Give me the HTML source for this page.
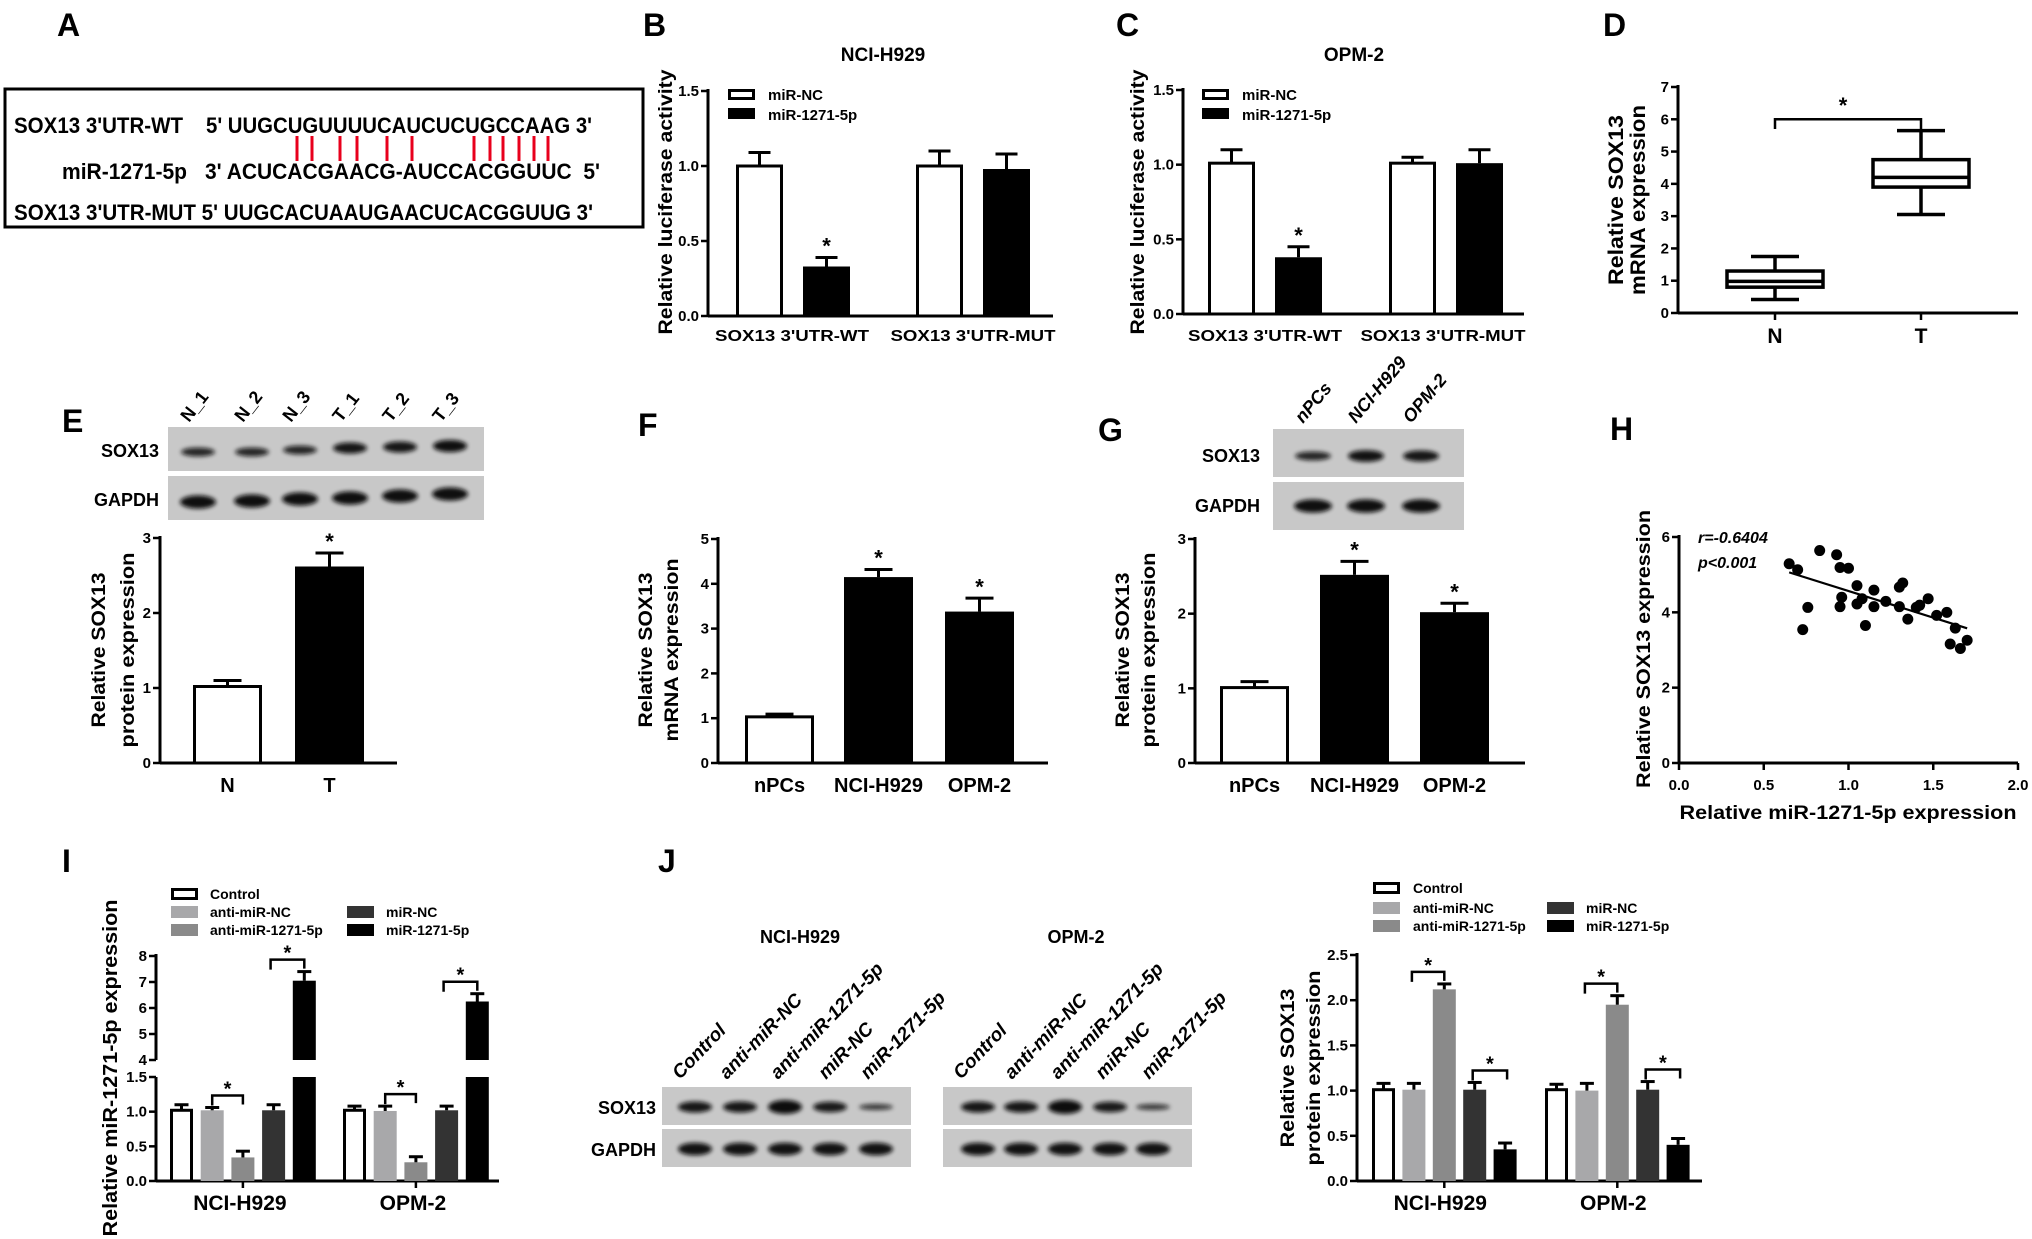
<!DOCTYPE html>
<html><head><meta charset="utf-8"><style>
html,body{margin:0;padding:0;background:#fff;}
svg{display:block;font-family:"Liberation Sans",Arial,sans-serif;font-weight:bold;}
.pre{white-space:pre;}
</style></head><body>
<svg id="fig" xmlns="http://www.w3.org/2000/svg" width="2032" height="1239" viewBox="0 0 2032 1239">
<defs><filter id="blur" x="-50%" y="-100%" width="200%" height="300%"><feGaussianBlur stdDeviation="2.2"/></filter></defs>
<rect x="0" y="0" width="2032" height="1239" fill="#fff"/>
<!-- Panel A -->
<g>
<text x="57" y="36" font-size="32">A</text>
<rect x="5" y="89" width="638" height="138" fill="none" stroke="#000" stroke-width="3"/>
<text x="14" y="133" font-size="22" textLength="169" lengthAdjust="spacingAndGlyphs">SOX13 3'UTR-WT</text>
<text x="206" y="133" font-size="22" textLength="386" lengthAdjust="spacingAndGlyphs">5' UUGCUGUUUUCAUCUCUGCCAAG 3'</text>
<text x="62" y="179" font-size="22" textLength="125" lengthAdjust="spacingAndGlyphs">miR-1271-5p</text>
<text x="205" y="179" font-size="22" class="pre" textLength="395" lengthAdjust="spacingAndGlyphs">3' ACUCACGAACG-AUCCACGGUUC  5'</text>
<text x="14" y="220" font-size="22" textLength="579" lengthAdjust="spacingAndGlyphs">SOX13 3'UTR-MUT 5' UUGCACUAAUGAACUCACGGUUG 3'</text>
<g id="pairs"></g>
</g>
<text x="643" y="36" font-size="32">B</text>
<text x="1116" y="36" font-size="32">C</text>
<text x="1603" y="36" font-size="32">D</text>
<text x="62" y="432" font-size="32">E</text>
<text x="638" y="436" font-size="32">F</text>
<text x="1098" y="441" font-size="32">G</text>
<text x="1610" y="440" font-size="32">H</text>
<text x="62" y="872" font-size="32">I</text>
<text x="658" y="872" font-size="32">J</text>
<g id="root"></g>
</svg>
<script>
// ---------- data ----------
const pairX = [297,312,340,357,387,412,474,490,503,519,534,548];
const bCats = ["SOX13 3'UTR-WT","SOX13 3'UTR-MUT"];
const bNC = [1.0,1.0];
const bNCerr = [0.09,0.10];
const bMiR = [0.33,0.98];
const bMiRerr = [0.06,0.10];
const cNC = [1.01,1.01];
const cNCerr = [0.09,0.04];
const cMiR = [0.38,1.01];
const cMiRerr = [0.07,0.09];
const bcTicks = [0,0.5,1.0,1.5];
const bcTickLabels = ["0.0","0.5","1.0","1.5"];
const dCats = ["N","T"];
const dMin = [0.42,3.05];
const dQ1 = [0.80,3.90];
const dMed = [0.98,4.20];
const dQ3 = [1.30,4.75];
const dMax = [1.75,5.65];
const dTicks = [0,1,2,3,4,5,6,7];
const eCats = ["N","T"];
const eVals = [1.02,2.62];
const eErr = [0.08,0.18];
const eTicks = [0,1,2,3];
const eLanes = ["N_1","N_2","N_3","T_1","T_2","T_3"];
const fCats = ["nPCs","NCI-H929","OPM-2"];
const fVals = [1.03,4.15,3.38];
const fErr = [0.06,0.17,0.30];
const fTicks = [0,1,2,3,4,5];
const gVals = [1.01,2.52,2.02];
const gErr = [0.08,0.18,0.12];
const gTicks = [0,1,2,3];
const hX = [0.65,0.70,0.73,0.76,0.83,0.93,0.95,0.96,0.95,1.00,1.05,1.05,1.08,1.10,1.15,1.15,1.22,1.30,1.32,1.30,1.35,1.40,1.42,1.47,1.52,1.58,1.60,1.63,1.66,1.70];
const hY = [5.29,5.13,3.54,4.13,5.64,5.53,5.19,4.40,4.15,5.17,4.71,4.22,4.36,3.65,4.59,4.15,4.29,4.67,4.78,4.15,3.82,4.13,4.19,4.36,3.92,4.00,3.16,3.58,3.04,3.26];
const hYTicks = [0,2,4,6];
const hXTicks = [0,0.5,1.0,1.5,2.0];
const hXTickLabels = ["0.0","0.5","1.0","1.5","2.0"];
const groups = ["NCI-H929","OPM-2"];
const seriesNames = ["Control","anti-miR-NC","anti-miR-1271-5p","miR-NC","miR-1271-5p"];
const iControl = [1.02,1.02];
const iAntiNC = [1.02,1.01];
const iAnti1271 = [0.34,0.27];
const iMiRNC = [1.02,1.02];
const iMiR1271 = [7.05,6.25];
const iControlErr = [0.08,0.06];
const iAntiNCErr = [0.04,0.07];
const iAnti1271Err = [0.09,0.08];
const iMiRNCErr = [0.08,0.06];
const iMiR1271Err = [0.35,0.30];
const iLowTicks = [0,0.5,1.0,1.5];
const iLowTickLabels = ["0.0","0.5","1.0","1.5"];
const iUpTicks = [4,5,6,7,8];
const jControl = [1.01,1.01];
const jAntiNC = [1.01,1.00];
const jAnti1271 = [2.12,1.95];
const jMiRNC = [1.01,1.01];
const jMiR1271 = [0.35,0.40];
const jControlErr = [0.07,0.06];
const jAntiNCErr = [0.07,0.08];
const jAnti1271Err = [0.06,0.10];
const jMiRNCErr = [0.08,0.09];
const jMiR1271Err = [0.07,0.07];
const jTicks = [0,0.5,1.0,1.5,2.0,2.5];
const jTickLabels = ["0.0","0.5","1.0","1.5","2.0","2.5"];
const jLanes = ["Control","anti-miR-NC","anti-miR-1271-5p","miR-NC","miR-1271-5p"];
const jBandStrength = [1.0,1.0,1.25,0.95,0.55];

// ---------- helpers ----------
const NS='http://www.w3.org/2000/svg';
const root=document.getElementById('root');
function mk(tag,p){const e=document.createElementNS(NS,tag);p.appendChild(e);return e;}
function grp(p,name){const e=mk('g',p);


return e;}
function rect(p,x,y,w,h,fill,stroke,sw,name){const e=mk('rect',p);
e.setAttribute('x',x);e.setAttribute('y',y);e.setAttribute('width',Math.max(0,w));e.setAttribute('height',Math.max(0,h));
e.setAttribute('fill',fill);if(stroke){e.setAttribute('stroke',stroke);e.setAttribute('stroke-width',sw);}


return e;}
function line(p,x1,y1,x2,y2,sw,name,col){const e=mk('line',p);
e.setAttribute('x1',x1);e.setAttribute('y1',y1);e.setAttribute('x2',x2);e.setAttribute('y2',y2);
e.setAttribute('stroke',col||'#000');e.setAttribute('stroke-width',sw);


return e;}
function path(p,d,sw,name){const e=mk('path',p);
e.setAttribute('d',d);e.setAttribute('fill','none');e.setAttribute('stroke','#000');e.setAttribute('stroke-width',sw);


return e;}
function text(p,x,y,s,size,anchor,name,o){o=o||{};const e=mk('text',p);
e.textContent=s;e.setAttribute('font-size',size);e.setAttribute('text-anchor',anchor||'start');
if(o.rot!==undefined){e.setAttribute('transform','translate('+x+','+y+') rotate('+o.rot+')');e.setAttribute('x',0);e.setAttribute('y',o.dy||0);}
else{e.setAttribute('x',x);e.setAttribute('y',y);}
if(o.italic)e.setAttribute('font-style','italic');
if(o.len){e.setAttribute('textLength',o.len);e.setAttribute('lengthAdjust','spacingAndGlyphs');}


return e;}
function yAxis(p,x,y1,y2,ticks,labels,sc,size,name){
line(p,x,y1,x,y2,3,name+'-line');
ticks.forEach((t,i)=>{line(p,x-7,sc(t),x,sc(t),2.5,name+'-tick');
text(p,x-9,sc(t)+5,labels[i],size||15,'end',name+'-tick-label');});}
function bar(p,left,w,v,err,sc,base,fill,outline,capW,name){
const yt=sc(v);
if(outline) rect(p,left+1.5,yt,w-3,base-yt,'#fff','#000',3,name);
else rect(p,left,yt,w,base-yt,fill,null,0,name);
const cx=left+w/2, ye=sc(v+err);
line(p,cx,yt,cx,ye,3,name+'-error');
line(p,cx-capW/2,ye,cx+capW/2,ye,3,name+'-error-cap');}
function star(p,x,yc,name,size){text(p,x,yc+0.6*(size||22),'*',size||22,'middle',name);}
function ytitle(p,cx,cy,s,len,size,name){text(p,cx,cy,s,size||19,'middle',name,{rot:-90,dy:7,len:len});}

// ---------- A pairing lines ----------
const pg=document.getElementById('pairs');
pairX.forEach(x=>{line(pg,x,136,x,161,3,'base-pair','#e8001c');});

// ---------- B & C ----------
function lucPanel(name,ax,yb,yt,xEnd,title,titleX,nc,ncErr,mi,miErr,lefts,catX,legX,legY,ttlCx){
const g=grp(root,name);
const sc=v=>yb-v*(yb-yt)/1.5;
text(g,titleX,61,title,19,'middle',name+'-title');
yAxis(g,ax,yt-2,yb,bcTicks,bcTickLabels,sc,15,name+'-y-axis');
line(g,ax,yb,xEnd,yb,3,name+'-x-axis');
bCats.forEach((c,i)=>{
bar(g,lefts[i],47,nc[i],ncErr[i],sc,yb,'#fff',true,22,name+'-bar-mir-nc-'+i);
bar(g,lefts[i]+67,47,mi[i],miErr[i],sc,yb,'#000',false,22,name+'-bar-mir-1271-'+i);
text(g,catX[i],341,c,16,'middle',name+'-x-label',{len:i?165:154});});
star(g,lefts[0]+67+23.5,sc(mi[0]+miErr[0])-17,name+'-star');
rect(g,legX+1.5,legY+1.5,24,8,'#fff','#000',3,name+'-legend-nc-swatch');
text(g,legX+40,legY+11,'miR-NC',15,'start',name+'-legend-nc');
rect(g,legX,legY+19,27,11,'#000',null,0,name+'-legend-mir-swatch');
text(g,legX+40,legY+31,'miR-1271-5p',15,'start',name+'-legend-mir');
ytitle(g,ttlCx,202,'Relative luciferase activity',265,19,name+'-y-title');}
lucPanel('panel-b',708,316,91,1053,'NCI-H929',883,bNC,bNCerr,bMiR,bMiRerr,[736,916],[792,973],728,89,665);
lucPanel('panel-c',1183,314,90,1524,'OPM-2',1354,cNC,cNCerr,cMiR,cMiRerr,[1208,1389],[1265,1443],1202,89,1137);

// ---------- D ----------
(function(){const g=grp(root,'panel-d');
const sc=v=>313-v*(313-87)/7;
yAxis(g,1678,85,313,dTicks,dTicks.map(String),sc,15,'panel-d-y-axis');
line(g,1678,313,2018,313,3,'panel-d-x-axis');
const cx=[1775,1921];
dCats.forEach((c,i)=>{
line(g,cx[i],313,cx[i],320,2.5,'panel-d-x-tick');
line(g,cx[i],sc(dMax[i]),cx[i],sc(dQ3[i]),3.5,'box-whisker-upper');
line(g,cx[i],sc(dQ1[i]),cx[i],sc(dMin[i]),3.5,'box-whisker-lower');
line(g,cx[i]-24,sc(dMax[i]),cx[i]+24,sc(dMax[i]),3.5,'box-cap-max');
line(g,cx[i]-24,sc(dMin[i]),cx[i]+24,sc(dMin[i]),3.5,'box-cap-min');
rect(g,cx[i]-48,sc(dQ3[i]),96,sc(dQ1[i])-sc(dQ3[i]),'#fff','#000',3.5,'box-'+c);
line(g,cx[i]-48,sc(dMed[i]),cx[i]+48,sc(dMed[i]),3.5,'box-median-'+c);
text(g,cx[i],343,c,21,'middle','panel-d-x-label');});
path(g,'M'+cx[0]+','+sc(5.7)+' V'+sc(6)+' H'+cx[1]+' V'+sc(5.7),2.5,'panel-d-bracket');
star(g,1843,100,'panel-d-star',22);
ytitle(g,1616,200,'Relative SOX13',170,21,'panel-d-y-title-1');
ytitle(g,1638,200,'mRNA expression',190,21,'panel-d-y-title-2');})();

// ---------- blots ----------
function band(p,cx,cy,rx,ry,strength,name){const e=mk('ellipse',p);
e.setAttribute('cx',cx);e.setAttribute('cy',cy);e.setAttribute('rx',rx);e.setAttribute('ry',ry*strength);
e.setAttribute('fill','#0a0a0a');e.setAttribute('opacity',Math.min(1,0.55+0.4*strength));e.setAttribute('filter','url(#blur)');

}
// E blot
(function(){const g=grp(root,'panel-e-blot');
rect(g,168,427,316,44,'#c8c8c8',null,0,'sox13-blot-strip');
rect(g,168,476,316,44,'#c8c8c8',null,0,'gapdh-blot-strip');
const bx=[198,252,300,350,400,450];
const sy=[452,452,450,448,447,446], gy=[502,501,499,498,496,494], ss=[0.8,0.8,0.8,1,1,1.1];
bx.forEach((x,i)=>{band(g,x,sy[i],17,5.5,ss[i],'sox13-band');band(g,x,gy[i],18,6,1.1,'gapdh-band');
text(g,x-9,423,eLanes[i],18,'start','lane-label',{rot:-52});});
text(g,159,457,'SOX13',18,'end','sox13-row-label');
text(g,159,506,'GAPDH',18,'end','gapdh-row-label');})();
// G blot
(function(){const g=grp(root,'panel-g-blot');
rect(g,1273,429,191,48,'#c8c8c8',null,0,'sox13-blot-strip');
rect(g,1273,482,191,48,'#c8c8c8',null,0,'gapdh-blot-strip');
const bx=[1313,1366,1421], ss=[0.8,1.05,1.0];
bx.forEach((x,i)=>{band(g,x,456,18,5.5,ss[i],'sox13-band');band(g,x,506,19,6,1.1,'gapdh-band');
text(g,x-10,424,fCats[i],18,'start','lane-label',{rot:-50,italic:true});});
text(g,1260,462,'SOX13',18,'end','sox13-row-label');
text(g,1260,512,'GAPDH',18,'end','gapdh-row-label');})();
// J blots
(function(){const g=grp(root,'panel-j-blot');
const boxes=[662,943], bxs=[[695,740,785,830,876],[978,1021,1065,1110,1153]], ttl=[800,1076];
const lab=[[680,727,778,826,868],[961,1012,1058,1103,1149]];
boxes.forEach((bx,k)=>{
rect(g,bx,1087,249,38,'#c8c8c8',null,0,'sox13-blot-strip');
rect(g,bx,1129,249,38,'#c8c8c8',null,0,'gapdh-blot-strip');
text(g,ttl[k],943,groups[k],18,'middle','blot-title');
bxs[k].forEach((x,i)=>{band(g,x,1107,17,5.5,jBandStrength[i],'sox13-band');band(g,x,1149,17,6,1.05,'gapdh-band');
text(g,lab[k][i],1080,jLanes[i],19,'start','lane-label',{rot:-46,italic:true});});});
text(g,656,1114,'SOX13',18,'end','sox13-row-label');
text(g,656,1156,'GAPDH',18,'end','gapdh-row-label');})();

// ---------- E F G bar charts ----------
function simplePanel(name,ax,top,vmax,xEnd,ticks,vals,errs,cats,lefts,fills,ttl1,ttl2,tx1,tx2,len1,len2){
const g=grp(root,name);
const sc=v=>763-v*(763-top)/vmax;
yAxis(g,ax,top-2,763,ticks,ticks.map(String),sc,15,name+'-y-axis');
line(g,ax,763,xEnd,763,3,name+'-x-axis');
vals.forEach((v,i)=>{bar(g,lefts[i],69,v,errs[i],sc,763,fills[i],fills[i]==='#fff',28,name+'-bar-'+i);
text(g,lefts[i]+34.5,792,cats[i],20,'middle',name+'-x-label');
if(i>0)star(g,lefts[i]+34.5,sc(v+errs[i])-17,name+'-star');});
ytitle(g,tx1,650,ttl1,len1,19,name+'-y-title-1');
ytitle(g,tx2,650,ttl2,len2,19,name+'-y-title-2');}
simplePanel('panel-e',160,538,3,397,eTicks,eVals,eErr,eCats,[193,295],['#fff','#000'],'Relative SOX13','protein expression',98,127,155,195);
simplePanel('panel-f',718,539,5,1048,fTicks,fVals,fErr,fCats,[745,844,945],['#fff','#000','#000'],'Relative SOX13','mRNA expression',645,671,155,183);
simplePanel('panel-g',1195,539,3,1525,gTicks,gVals,gErr,fCats,[1220,1320,1420],['#fff','#000','#000'],'Relative SOX13','protein expression',1122,1148,155,195);

// ---------- H scatter ----------
(function(){const g=grp(root,'panel-h');
const sy=v=>763-v*(763-537)/6, sx=v=>1679+v*(2018-1679)/2;
yAxis(g,1679,535,763,hYTicks,hYTicks.map(String),sy,15,'panel-h-y-axis');
line(g,1679,763,2018,763,3,'panel-h-x-axis');
hXTicks.forEach((t,i)=>{line(g,sx(t),763,sx(t),770,2.5,'panel-h-x-tick');
text(g,sx(t),790,hXTickLabels[i],15,'middle','panel-h-x-tick-label');});
hX.forEach((x,i)=>{const c=mk('circle',g);c.setAttribute('cx',sx(x));c.setAttribute('cy',sy(hY[i]));c.setAttribute('r',5.5);c.setAttribute('fill','#000');

});
const n=hX.length,mx=hX.reduce((a,b)=>a+b)/n,my=hY.reduce((a,b)=>a+b)/n;
let sxy=0,sxx=0;hX.forEach((x,i)=>{sxy+=(x-mx)*(hY[i]-my);sxx+=(x-mx)*(x-mx);});
const b=sxy/sxx,a=my-b*mx,x0=Math.min(...hX),x1=Math.max(...hX);
line(g,sx(x0),sy(a+b*x0),sx(x1),sy(a+b*x1),2.2,'regression-line');
text(g,1698,543,'r=-0.6404',16,'start','correlation-r',{italic:true});
text(g,1698,568,'p<0.001',16,'start','p-value',{italic:true});
text(g,1848,819,'Relative miR-1271-5p expression',19,'middle','panel-h-x-title',{len:337});
ytitle(g,1643,649,'Relative SOX13 expression',278,19,'panel-h-y-title');})();

// ---------- I & J grouped ----------
const fillsG=['#fff','#a8a8aa','#8a8a8a','#333333','#000'];
function legend(g,c1,c2,tx1,tx2,rows,name){
const pos=[[c1,tx1,rows[0]],[c1,tx1,rows[1]],[c1,tx1,rows[2]],[c2,tx2,rows[1]],[c2,tx2,rows[2]]];
seriesNames.forEach((s,i)=>{const p=pos[i];
if(i===0)rect(g,p[0]+1.5,p[2]-4.5,24,9,'#fff','#000',3,name+'-swatch');
else rect(g,p[0],p[2]-6,27,12,fillsG[i],null,0,name+'-swatch');
text(g,p[1],p[2]+5,s,14,'start',name+'-text');});}
function bracket(g,xa,xb,y,name){path(g,'M'+xa+','+(y+10)+' V'+y+' H'+xb+' V'+(y+9),2.5,name);star(g,(xa+xb)/2,y-12,name+'-star',20);}
// I
(function(){const g=grp(root,'panel-i');
const lo=v=>1181-v*(1181-1077)/1.5, up=v=>1060-(v-4)*(1060-956)/4;
line(g,156,954,156,1060,3,'panel-i-y-axis-upper');
line(g,156,1077,156,1181,3,'panel-i-y-axis-lower');
iLowTicks.forEach((t,i)=>{line(g,149,lo(t),156,lo(t),2.5,'panel-i-y-tick');text(g,147,lo(t)+5,iLowTickLabels[i],15,'end','panel-i-y-tick-label');});
iUpTicks.forEach(t=>{line(g,149,up(t),156,up(t),2.5,'panel-i-y-tick');text(g,147,up(t)+5,String(t),15,'end','panel-i-y-tick-label');});
line(g,156,1181,499,1181,3,'panel-i-x-axis');
const series=[iControl,iAntiNC,iAnti1271,iMiRNC,iMiR1271], errs=[iControlErr,iAntiNCErr,iAnti1271Err,iMiRNCErr,iMiR1271Err];
const gl=[170,343], step=30.7, w=23;
groups.forEach((gn,k)=>{
series.forEach((s,i)=>{const left=gl[k]+i*step, v=s[k];
if(v>2){rect(g,left,lo(1.5),w,1181-lo(1.5),'#000',null,0,'bar-'+gn+'-'+seriesNames[i]+'-lower');
const yt=up(v),ye=up(v+errs[i][k]);rect(g,left,yt,w,1060-yt,'#000',null,0,'bar-'+gn+'-'+seriesNames[i]);
line(g,left+w/2,yt,left+w/2,ye,3,'error-bar');line(g,left+w/2-7,ye,left+w/2+7,ye,3,'error-cap');}
else bar(g,left,w,v,errs[i][k],lo,1181,fillsG[i],i===0,14,'bar-'+gn+'-'+seriesNames[i]);});
const c=x=>gl[k]+x*step+w/2;
line(g,c(2),1181,c(2),1188,2.5,'panel-i-x-tick');
text(g,c(2)-3,1210,gn,21,'middle','panel-i-x-label');
bracket(g,c(1),c(2),lo(Math.max(iAntiNC[k]+iAntiNCErr[k],iAnti1271[k]+iAnti1271Err[k]))-12,'panel-i-bracket-anti');
bracket(g,c(3)-3,c(4),up(iMiR1271[k]+iMiR1271Err[k])-12,'panel-i-bracket-mir');});
legend(g,171,347,210,386,[894,912,930],'panel-i-legend');
ytitle(g,110,1068,'Relative miR-1271-5p expression',337,20,'panel-i-y-title');})();
// J
(function(){const g=grp(root,'panel-j-chart');
const sc=v=>1181-v*(1181-955)/2.5;
yAxis(g,1357,953,1181,jTicks,jTickLabels,sc,15,'panel-j-y-axis');
line(g,1357,1181,1702,1181,3,'panel-j-x-axis');
const series=[jControl,jAntiNC,jAnti1271,jMiRNC,jMiR1271], errs=[jControlErr,jAntiNCErr,jAnti1271Err,jMiRNCErr,jMiR1271Err];
const gl=[1372,1545], step=30.4, w=23;
groups.forEach((gn,k)=>{
series.forEach((s,i)=>{bar(g,gl[k]+i*step,w,s[k],errs[i][k],sc,1181,fillsG[i],i===0,14,'bar-'+gn+'-'+seriesNames[i]);});
const c=x=>gl[k]+x*step+w/2;
line(g,c(2),1181,c(2),1188,2.5,'panel-j-x-tick');
text(g,c(2)-4,1210,gn,21,'middle','panel-j-x-label');
bracket(g,c(1)-2,c(2),sc(Math.max(jAntiNC[k]+jAntiNCErr[k],jAnti1271[k]+jAnti1271Err[k]))-12,'panel-j-bracket-anti');
bracket(g,c(3)-2,c(4)+2,sc(Math.max(jMiRNC[k]+jMiRNCErr[k],jMiR1271[k]+jMiR1271Err[k]))-12,'panel-j-bracket-mir');});
legend(g,1373,1547,1413,1586,[888,908,926],'panel-j-legend');
ytitle(g,1287,1068,'Relative SOX13',159,19,'panel-j-y-title-1');
ytitle(g,1313,1068,'protein expression',195,19,'panel-j-y-title-2');})();
</script>
</body></html>
